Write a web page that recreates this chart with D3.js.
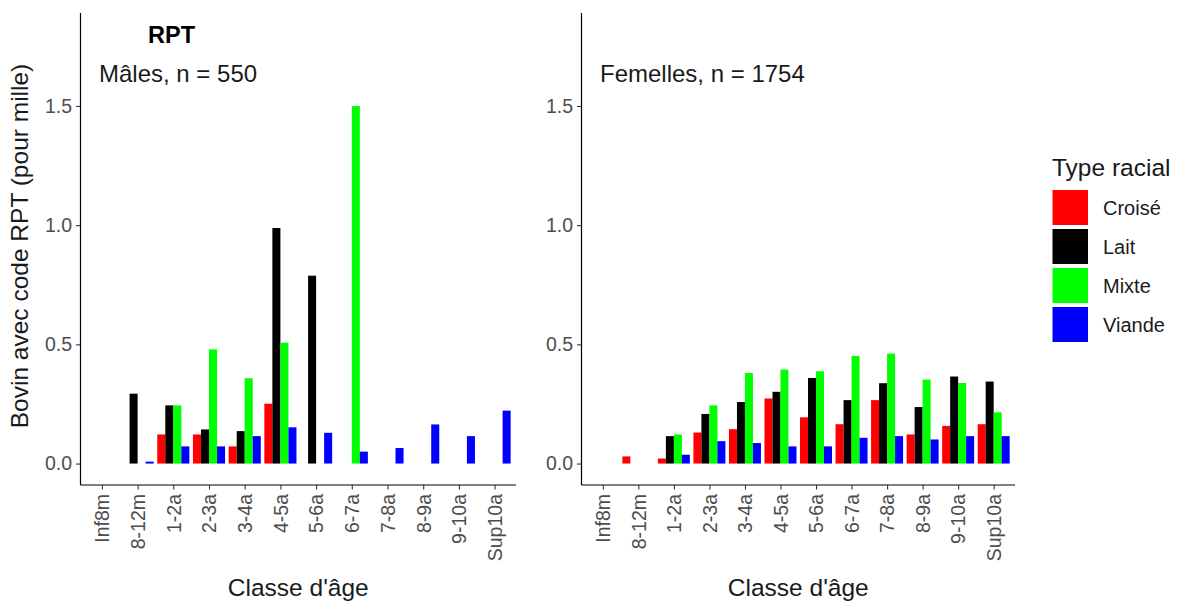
<!DOCTYPE html>
<html><head><meta charset="utf-8">
<script src="https://cdn.jsdelivr.net/npm/d3@7"></script>
<style>body{margin:0;background:#fff;font-family:"Liberation Sans",Arial,sans-serif}</style>
</head><body><svg id="c" width="1178" height="603"></svg>
<script>
const categories = ["Inf8m","8-12m","1-2a","2-3a","3-4a","4-5a","5-6a","6-7a","7-8a","8-9a","9-10a","Sup10a"];
const groups = ["Croisé","Lait","Mixte","Viande"];
const colors = ["#FF0000","#000000","#00FF00","#0000FF"];
// Mâles (null = absent)
const malesCroise = [null,null,0.122,0.122,0.072,0.251,null,null,null,null,null,null];
const malesLait   = [null,0.293,0.244,0.143,0.136,0.988,0.788,null,null,null,null,null];
const malesMixte  = [null,null,0.244,0.479,0.358,0.507,null,1.5,null,null,null,null];
const malesViande = [null,0.008,0.072,0.072,0.115,0.152,0.129,0.05,0.065,0.164,0.115,0.222];
// Femelles
const femCroise = [null,0.030,0.021,0.130,0.144,0.273,0.194,0.165,0.266,0.122,0.158,0.165];
const femLait   = [null,null,0.115,0.208,0.258,0.301,0.359,0.266,0.337,0.237,0.365,0.344];
const femMixte  = [null,null,0.122,0.244,0.380,0.394,0.387,0.451,0.461,0.352,0.338,0.215];
const femViande = [null,null,0.037,0.094,0.086,0.072,0.072,0.108,0.115,0.101,0.115,0.115];
const yTicks = [0,0.5,1.0,1.5];

const svg = d3.select("#c");
const panels = [
  {x0:80.5, x1:516, label:"Mâles, n = 550", series:[malesCroise,malesLait,malesMixte,malesViande]},
  {x0:581.5, x1:1015, label:"Femelles, n = 1754", series:[femCroise,femLait,femMixte,femViande]}
];
const yTop = 13, yBot = 485;
const y = d3.scaleLinear().domain([-0.09,1.89]).range([yBot,yTop]);
const FONT = "Liberation Sans, Arial, sans-serif";

panels.forEach((p,pi)=>{
  const step = (p.x1-p.x0)/(categories.length-1+1.2);
  const xs = d3.scalePoint().domain(categories).range([p.x0+step*0.6, p.x1-step*0.6]);
  const bw = step*0.9/4;
  const g = svg.append("g");
  p.series.forEach((s,gi)=>{
    g.selectAll(null).data(categories.map((c,i)=>({c,v:s[i]})).filter(d=>d.v!=null))
      .enter().append("rect")
      .attr("x",d=>xs(d.c)-step*0.45+gi*bw)
      .attr("width",bw)
      .attr("y",d=>y(d.v))
      .attr("height",d=>y(0)-y(d.v))
      .attr("fill",colors[gi]);
  });
  // y axis
  const ya = d3.axisLeft(y).tickValues(yTicks).tickFormat(d3.format(".1f")).tickSize(4.5).tickPadding(4);
  const yg = svg.append("g").attr("transform",`translate(${p.x0},0)`).call(ya);
  yg.select(".domain").attr("d",`M0,${yTop}V${yBot}`).attr("stroke","#000").attr("stroke-width",1.2);
  yg.selectAll(".tick line").attr("stroke","#333").attr("stroke-width",1.1);
  yg.selectAll(".tick text").attr("fill","#4d4d4d").style("font-size","19.5px").style("font-family",FONT);
  // x axis
  const xa = d3.axisBottom(xs).tickSize(4.5).tickPadding(3);
  const xg = svg.append("g").attr("transform",`translate(0,${yBot})`).call(xa);
  xg.select(".domain").attr("d",`M${p.x0},0H${p.x1}`).attr("stroke","#000").attr("stroke-width",1.2);
  xg.selectAll(".tick line").attr("stroke","#333").attr("stroke-width",1.1);
  xg.selectAll(".tick text").attr("fill","#4d4d4d").style("font-size","19.5px").style("font-family",FONT)
    .attr("transform","rotate(-90)").attr("text-anchor","end").attr("x",-9).attr("y",0).attr("dy","0.35em");
  // panel label
  svg.append("text").attr("x",p.x0+18.5).attr("y",81.5).text(p.label)
    .style("font-size","24px").style("font-family",FONT).attr("fill","#1a1a1a");
  // x title
  svg.append("text").attr("x",(p.x0+p.x1)/2).attr("y",596).attr("text-anchor","middle")
    .text("Classe d'âge").style("font-size","24.5px").style("font-family",FONT).attr("fill","#1a1a1a");
});

svg.append("text").attr("x",171.5).attr("y",43).attr("text-anchor","middle").text("RPT")
  .style("font-size","23.5px").style("font-weight","bold").style("font-family",FONT).attr("fill","#000");
svg.append("text").attr("transform","translate(28,246) rotate(-90)").attr("text-anchor","middle")
  .text("Bovin avec code RPT (pour mille)").style("font-size","24.5px").style("font-family",FONT).attr("fill","#1a1a1a");

// legend
const lg = svg.append("g");
lg.append("text").attr("x",1052).attr("y",175.5).text("Type racial").style("font-size","24.5px").style("font-family",FONT).attr("fill","#1a1a1a");
groups.forEach((gname,i)=>{
  lg.append("rect").attr("x",1052.5).attr("y",190+i*39).attr("width",35.5).attr("height",35).attr("fill",colors[i]);
  lg.append("text").attr("x",1103).attr("y",190+i*39+17.5).attr("dy","0.35em").text(gname)
    .style("font-size","20px").style("font-family",FONT).attr("fill","#1a1a1a");
});
</script></body></html>
